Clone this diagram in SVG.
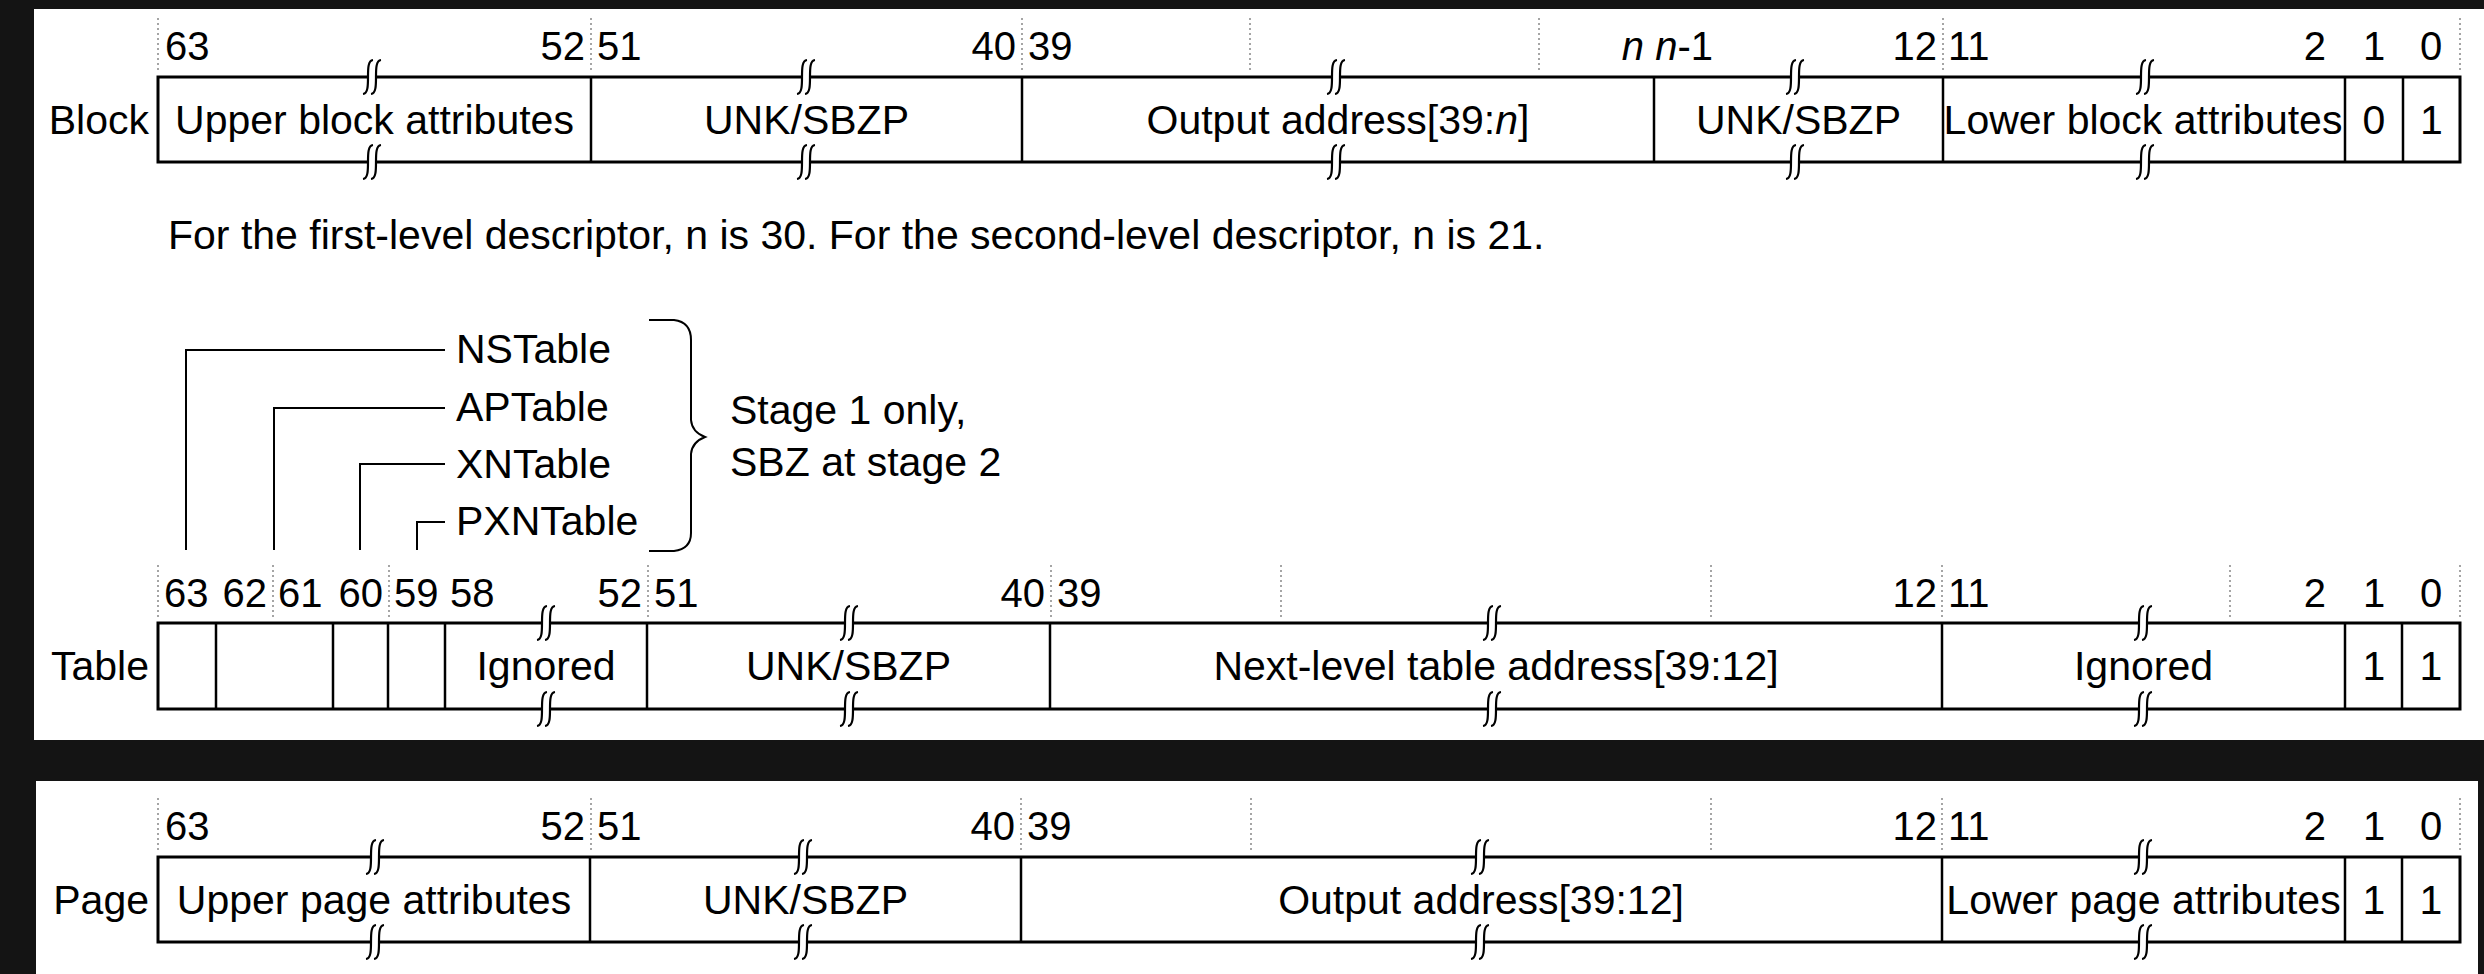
<svg xmlns="http://www.w3.org/2000/svg" width="2484" height="974" viewBox="0 0 2484 974">
<style>
.bg{fill:#141414}
.panel{fill:#fff}
.box{fill:none;stroke:#000;stroke-width:3}
.div{stroke:#000;stroke-width:2.5}
.tick{stroke:#888;stroke-width:1.5;stroke-dasharray:2 3}
.t{font-family:"Liberation Sans",Arial,Helvetica,sans-serif;font-size:41px;fill:#000}
.n{font-family:"Liberation Sans",Arial,Helvetica,sans-serif;font-size:40px;fill:#000}
.m{text-anchor:middle}
.e{text-anchor:end}
.i{font-style:italic}
.lead{fill:none;stroke:#000;stroke-width:2}
</style>
<defs>
<g id="brk">
<rect x="-4" y="-3" width="8" height="6" fill="#fff"/>
<path d="M1,-17 C-9,-16 1,16 -9,17 M9,-17 C-1,-16 9,16 -1,17" fill="none" stroke="#000" stroke-width="2.2"/>
</g>
</defs>
<rect class="bg" x="0" y="0" width="2484" height="974"/>
<rect class="panel" x="34" y="9" width="2450" height="731"/>
<rect class="panel" x="36" y="781" width="2442" height="193"/>

<g id="block-row">
<g id="block-ticks">
<line class="tick" x1="158" y1="18" x2="158" y2="72"/>
<line class="tick" x1="591" y1="18" x2="591" y2="72"/>
<line class="tick" x1="1022" y1="18" x2="1022" y2="72"/>
<line class="tick" x1="1250" y1="18" x2="1250" y2="72"/>
<line class="tick" x1="1539" y1="18" x2="1539" y2="72"/>
<line class="tick" x1="1943" y1="18" x2="1943" y2="72"/>
<line class="tick" x1="2460" y1="18" x2="2460" y2="72"/>
</g>
<g id="block-bits">
<text class="n" x="165" y="60">63</text>
<text class="n e" x="585" y="60">52</text>
<text class="n" x="597" y="60">51</text>
<text class="n e" x="1016" y="60">40</text>
<text class="n" x="1028" y="60">39</text>
<text class="n e" x="1713" y="60"><tspan class="i">n</tspan> <tspan class="i">n</tspan>-1</text>
<text class="n e" x="1937" y="60">12</text>
<text class="n" x="1948" y="60">11</text>
<text class="n e" x="2326" y="60">2</text>
<text class="n m" x="2374" y="60">1</text>
<text class="n m" x="2431" y="60">0</text>
</g>
<text class="t e" x="149" y="134">Block</text>
<rect class="box" x="158" y="77" width="2302" height="85"/>
<line class="div" x1="591" y1="77" x2="591" y2="162"/>
<line class="div" x1="1022" y1="77" x2="1022" y2="162"/>
<line class="div" x1="1654" y1="77" x2="1654" y2="162"/>
<line class="div" x1="1943" y1="77" x2="1943" y2="162"/>
<line class="div" x1="2345" y1="77" x2="2345" y2="162"/>
<line class="div" x1="2403" y1="77" x2="2403" y2="162"/>
<text class="t m" x="374.5" y="134">Upper block attributes</text>
<text class="t m" x="806.5" y="134">UNK/SBZP</text>
<text class="t m" x="1338" y="134">Output address[39:<tspan class="i">n</tspan>]</text>
<text class="t m" x="1798.5" y="134">UNK/SBZP</text>
<text class="t m" x="2143" y="134">Lower block attributes</text>
<text class="t m" x="2374" y="134">0</text>
<text class="t m" x="2431.5" y="134">1</text>
<use href="#brk" x="372" y="77"/><use href="#brk" x="372" y="162"/>
<use href="#brk" x="806" y="77"/><use href="#brk" x="806" y="162"/>
<use href="#brk" x="1336" y="77"/><use href="#brk" x="1336" y="162"/>
<use href="#brk" x="1795" y="77"/><use href="#brk" x="1795" y="162"/>
<use href="#brk" x="2145" y="77"/><use href="#brk" x="2145" y="162"/>
</g>

<text id="note" class="t" x="168" y="249">For the first-level descriptor, n is 30. For the second-level descriptor, n is 21.</text>

<g id="table-flags">
<text class="t" x="456" y="363">NSTable</text>
<text class="t" x="456" y="421">APTable</text>
<text class="t" x="456" y="478">XNTable</text>
<text class="t" x="456" y="535">PXNTable</text>
<path class="lead" d="M649,320 H674 Q691,322 691,340 V420 Q692,432 705,437 Q692,442 691,454 V533 Q691,549 674,551 H649"/>
<text class="t" x="730" y="424">Stage 1 only,</text>
<text class="t" x="730" y="476">SBZ at stage 2</text>
</g>

<g id="connectors">
<path class="lead" d="M186,550 V350 H445"/>
<path class="lead" d="M274,550 V408 H445"/>
<path class="lead" d="M360,550 V464 H445"/>
<path class="lead" d="M417,550 V522 H445"/>
</g>

<g id="table-row">
<g id="table-ticks">
<line class="tick" x1="158" y1="565" x2="158" y2="618"/>
<line class="tick" x1="273" y1="565" x2="273" y2="618"/>
<line class="tick" x1="389" y1="565" x2="389" y2="618"/>
<line class="tick" x1="648" y1="565" x2="648" y2="618"/>
<line class="tick" x1="1051" y1="565" x2="1051" y2="618"/>
<line class="tick" x1="1281" y1="565" x2="1281" y2="618"/>
<line class="tick" x1="1711" y1="565" x2="1711" y2="618"/>
<line class="tick" x1="1942" y1="565" x2="1942" y2="618"/>
<line class="tick" x1="2230" y1="565" x2="2230" y2="618"/>
<line class="tick" x1="2460" y1="565" x2="2460" y2="618"/>
</g>
<g id="table-bits">
<text class="n" x="164" y="607">63</text>
<text class="n e" x="267" y="607">62</text>
<text class="n" x="278" y="607">61</text>
<text class="n e" x="383" y="607">60</text>
<text class="n" x="394" y="607">59</text>
<text class="n" x="450" y="607">58</text>
<text class="n e" x="642" y="607">52</text>
<text class="n" x="654" y="607">51</text>
<text class="n e" x="1045" y="607">40</text>
<text class="n" x="1057" y="607">39</text>
<text class="n e" x="1937" y="607">12</text>
<text class="n" x="1948" y="607">11</text>
<text class="n e" x="2326" y="607">2</text>
<text class="n m" x="2374" y="607">1</text>
<text class="n m" x="2431" y="607">0</text>
</g>
<text class="t e" x="149" y="680">Table</text>
<rect class="box" x="158" y="623" width="2302" height="86"/>
<line class="div" x1="216" y1="623" x2="216" y2="709"/>
<line class="div" x1="333" y1="623" x2="333" y2="709"/>
<line class="div" x1="388" y1="623" x2="388" y2="709"/>
<line class="div" x1="445" y1="623" x2="445" y2="709"/>
<line class="div" x1="647" y1="623" x2="647" y2="709"/>
<line class="div" x1="1050" y1="623" x2="1050" y2="709"/>
<line class="div" x1="1942" y1="623" x2="1942" y2="709"/>
<line class="div" x1="2345" y1="623" x2="2345" y2="709"/>
<line class="div" x1="2402" y1="623" x2="2402" y2="709"/>
<text class="t m" x="546" y="680">Ignored</text>
<text class="t m" x="848.5" y="680">UNK/SBZP</text>
<text class="t m" x="1496" y="680">Next-level table address[39:12]</text>
<text class="t m" x="2143.5" y="680">Ignored</text>
<text class="t m" x="2374" y="680">1</text>
<text class="t m" x="2431" y="680">1</text>
<use href="#brk" x="546" y="623"/><use href="#brk" x="546" y="709"/>
<use href="#brk" x="849" y="623"/><use href="#brk" x="849" y="709"/>
<use href="#brk" x="1492" y="623"/><use href="#brk" x="1492" y="709"/>
<use href="#brk" x="2143" y="623"/><use href="#brk" x="2143" y="709"/>
</g>

<g id="page-row">
<g id="page-ticks">
<line class="tick" x1="158" y1="798" x2="158" y2="852"/>
<line class="tick" x1="591" y1="798" x2="591" y2="852"/>
<line class="tick" x1="1021" y1="798" x2="1021" y2="852"/>
<line class="tick" x1="1251" y1="798" x2="1251" y2="852"/>
<line class="tick" x1="1711" y1="798" x2="1711" y2="852"/>
<line class="tick" x1="1942" y1="798" x2="1942" y2="852"/>
<line class="tick" x1="2460" y1="798" x2="2460" y2="852"/>
</g>
<g id="page-bits">
<text class="n" x="165" y="840">63</text>
<text class="n e" x="585" y="840">52</text>
<text class="n" x="597" y="840">51</text>
<text class="n e" x="1015" y="840">40</text>
<text class="n" x="1027" y="840">39</text>
<text class="n e" x="1937" y="840">12</text>
<text class="n" x="1948" y="840">11</text>
<text class="n e" x="2326" y="840">2</text>
<text class="n m" x="2374" y="840">1</text>
<text class="n m" x="2431" y="840">0</text>
</g>
<text class="t e" x="149" y="914">Page</text>
<rect class="box" x="158" y="857" width="2302" height="85"/>
<line class="div" x1="590" y1="857" x2="590" y2="942"/>
<line class="div" x1="1021" y1="857" x2="1021" y2="942"/>
<line class="div" x1="1942" y1="857" x2="1942" y2="942"/>
<line class="div" x1="2345" y1="857" x2="2345" y2="942"/>
<line class="div" x1="2402" y1="857" x2="2402" y2="942"/>
<text class="t m" x="374" y="914">Upper page attributes</text>
<text class="t m" x="805.5" y="914">UNK/SBZP</text>
<text class="t m" x="1481" y="914">Output address[39:12]</text>
<text class="t m" x="2143.5" y="914">Lower page attributes</text>
<text class="t m" x="2374" y="914">1</text>
<text class="t m" x="2431" y="914">1</text>
<use href="#brk" x="375" y="857"/><use href="#brk" x="375" y="942"/>
<use href="#brk" x="803" y="857"/><use href="#brk" x="803" y="942"/>
<use href="#brk" x="1480" y="857"/><use href="#brk" x="1480" y="942"/>
<use href="#brk" x="2143" y="857"/><use href="#brk" x="2143" y="942"/>
</g>
</svg>
